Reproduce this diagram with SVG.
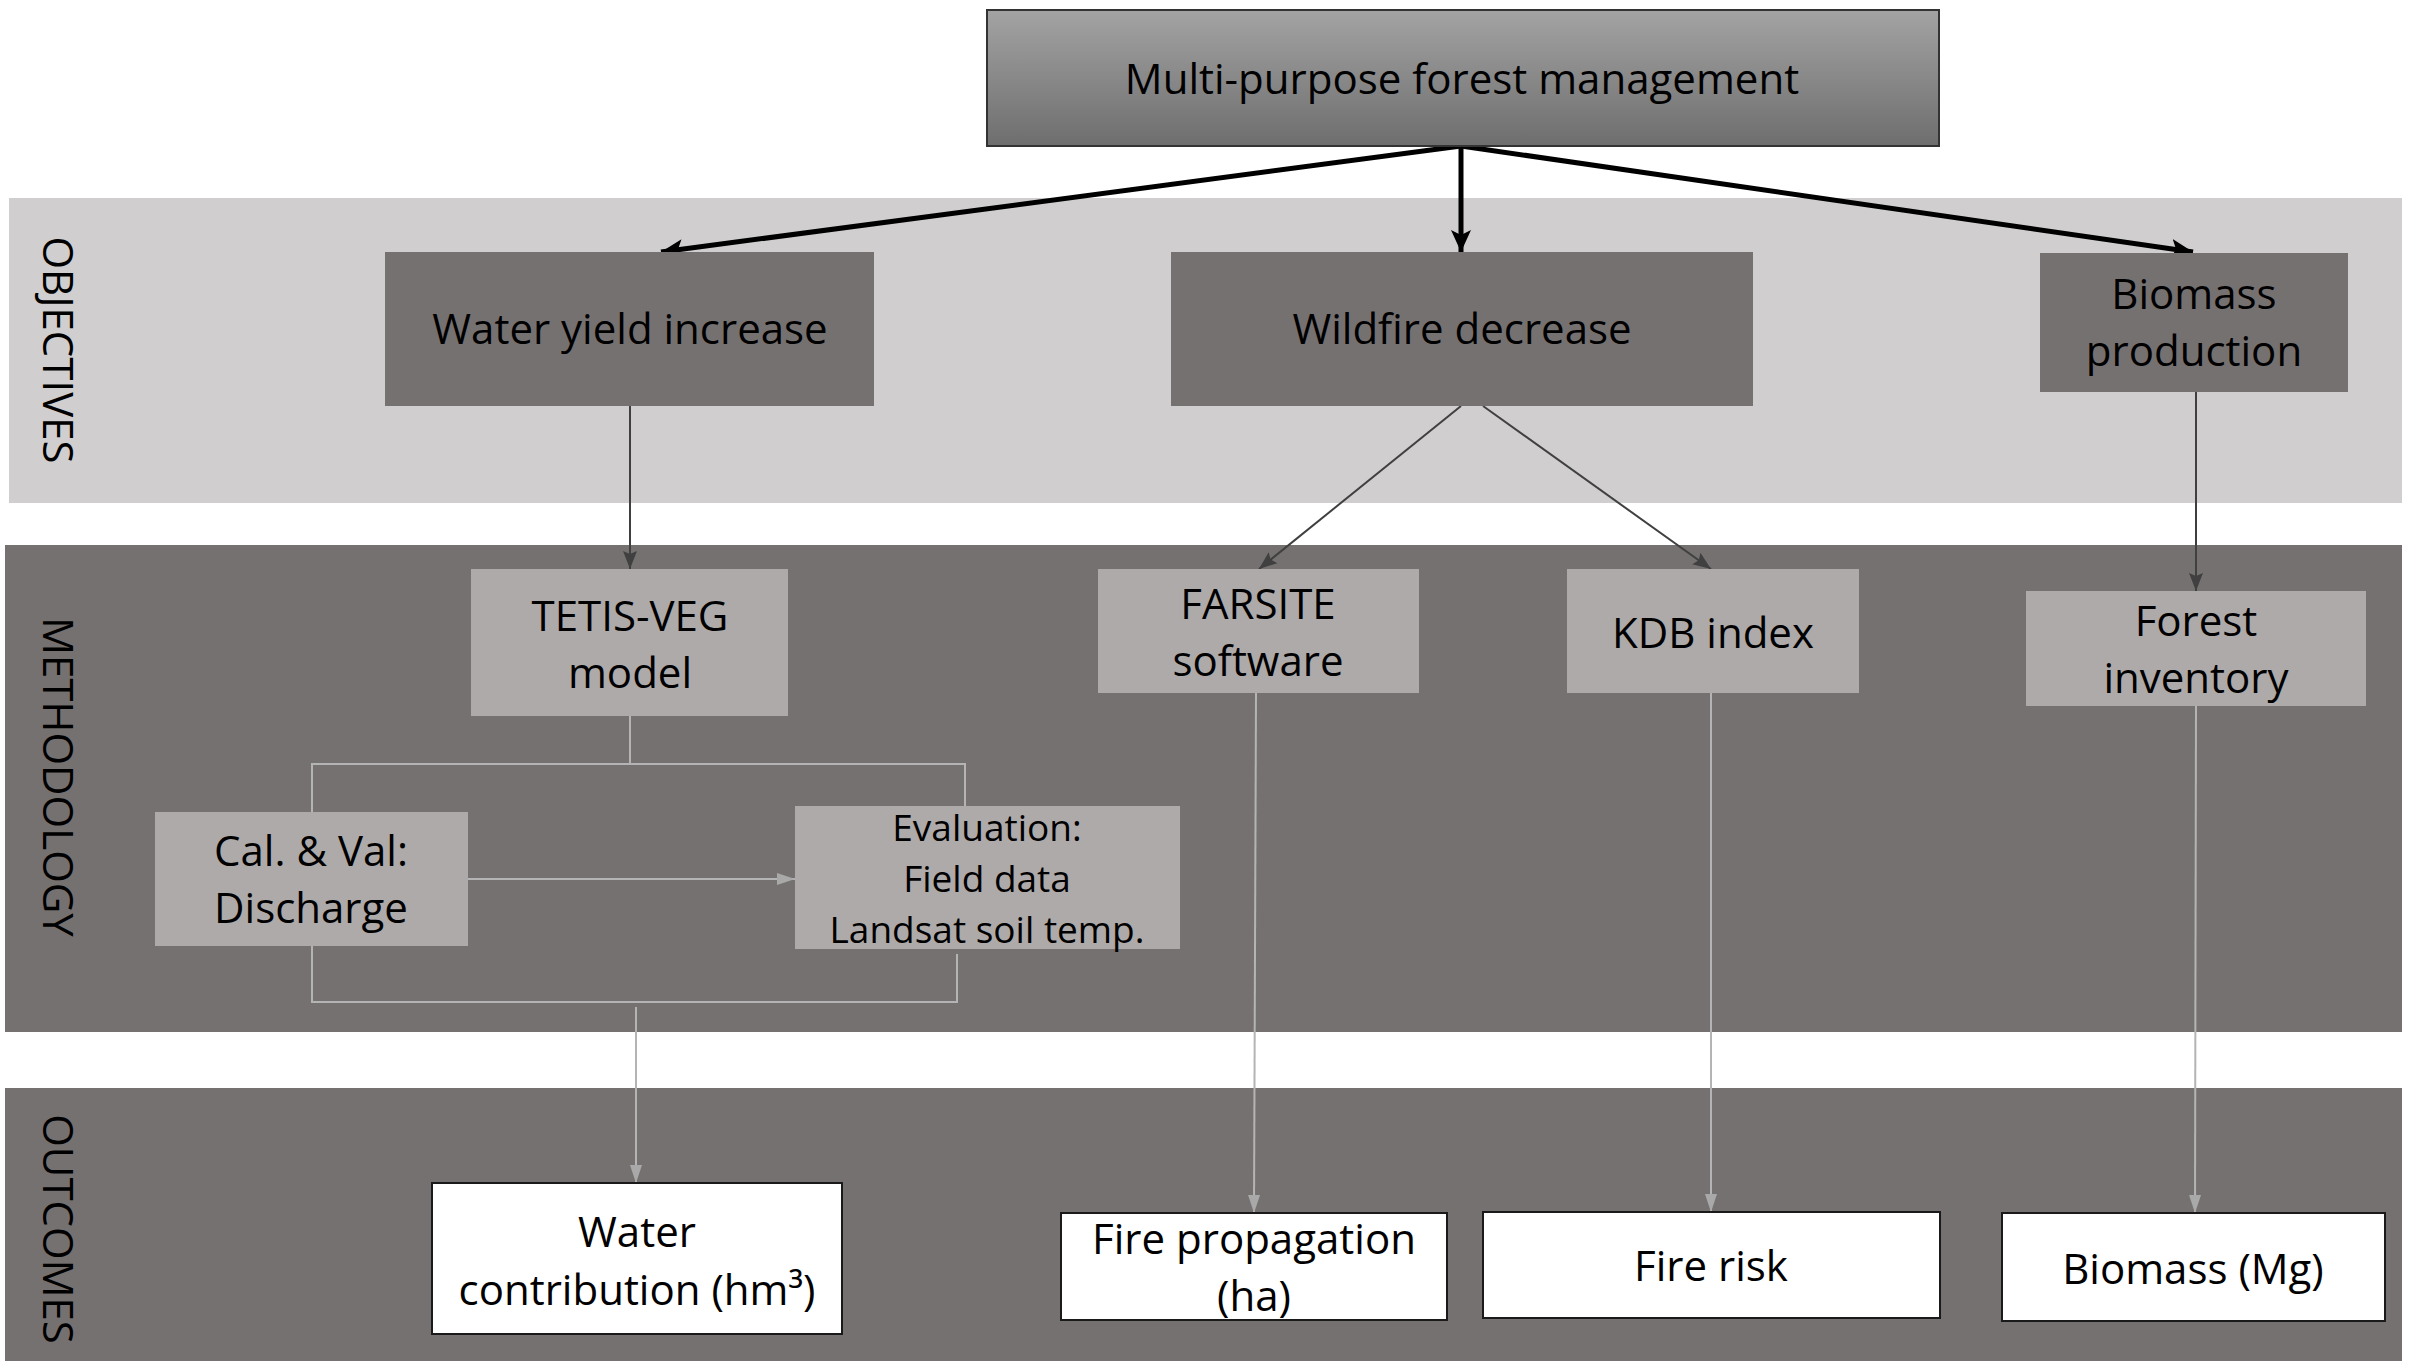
<svg xmlns="http://www.w3.org/2000/svg" width="2422" height="1361" viewBox="0 0 2422 1361">
<defs>
<linearGradient id="topGrad" x1="0" y1="0" x2="0" y2="1">
<stop offset="0" stop-color="#a3a3a3"/>
<stop offset="1" stop-color="#6e6e6e"/>
</linearGradient>
<marker id="ahBlack" markerUnits="userSpaceOnUse" markerWidth="24" markerHeight="24" viewBox="0 0 24 24" refX="22" refY="12" orient="auto">
<path d="M0,2 L22,12 L0,22 L5,12 Z" fill="#000"/>
</marker>
<marker id="ahDark" markerUnits="userSpaceOnUse" markerWidth="18" markerHeight="16" viewBox="0 0 18 16" refX="18" refY="8" orient="auto">
<path d="M0,1 L18,8 L0,15 L3,8 Z" fill="#404040"/>
</marker>
<marker id="ahLight" markerUnits="userSpaceOnUse" markerWidth="18" markerHeight="14" viewBox="0 0 18 14" refX="18" refY="7" orient="auto">
<path d="M0,1 L18,7 L0,13 Z" fill="#a9a9a9"/>
</marker>
</defs>
<style>
text { font-family: "Open Sans", "Liberation Sans", sans-serif; fill: #000; text-anchor: middle; }
.t { font-size: 42px; }
.ts { font-size: 37px; }
.lbl { font-size: 42px; text-anchor: middle; }
.band-light { fill: #d0cecf; }
.band-dark { fill: #767171; }
.obj { fill: #767171; }
.meth { fill: #aeaaaa; }
.out { fill: #ffffff; stroke: #1a1a1a; stroke-width: 2; }
.top { fill: url(#topGrad); stroke: #333; stroke-width: 2; }
.cBlack { stroke: #000; stroke-width: 5; fill: none; }
.cDark { stroke: #404040; stroke-width: 2; fill: none; }
.cLight { stroke: #b4b4b4; stroke-width: 2; fill: none; }
</style>

<!-- bands -->
<g id="bands">
<rect class="band-light" x="9" y="198" width="2393" height="305"/>
<rect class="band-dark" x="5" y="545" width="2397" height="487"/>
<rect class="band-dark" x="5" y="1088" width="2397" height="273"/>
<text class="lbl" transform="translate(43,350) rotate(90)">OBJECTIVES</text>
<text class="lbl" transform="translate(43,777) rotate(90)">METHODOLOGY</text>
<text class="lbl" transform="translate(43,1229) rotate(90)">OUTCOMES</text>
</g>

<!-- connectors -->
<g id="connectors">
<line class="cBlack" x1="1461" y1="146" x2="661" y2="252" marker-end="url(#ahBlack)"/>
<line class="cBlack" x1="1461" y1="146" x2="1461" y2="252" marker-end="url(#ahBlack)"/>
<line class="cBlack" x1="1461" y1="146" x2="2193" y2="252" marker-end="url(#ahBlack)"/>
<line class="cDark" x1="630" y1="406" x2="630" y2="569" marker-end="url(#ahDark)"/>
<line class="cDark" x1="1461" y1="406" x2="1259" y2="569" marker-end="url(#ahDark)"/>
<line class="cDark" x1="1483" y1="406" x2="1711" y2="569" marker-end="url(#ahDark)"/>
<line class="cDark" x1="2196" y1="392" x2="2196" y2="591" marker-end="url(#ahDark)"/>
<polyline class="cLight" points="630,716 630,764"/>
<polyline class="cLight" points="312,812 312,764 965,764 965,806"/>
<line class="cLight" x1="468" y1="879" x2="795" y2="879" marker-end="url(#ahLight)"/>
<polyline class="cLight" points="312,946 312,1002 957,1002 957,954"/>
<line class="cLight" x1="636" y1="1007" x2="636" y2="1183" marker-end="url(#ahLight)"/>
<line class="cLight" x1="1256" y1="693" x2="1254" y2="1213" marker-end="url(#ahLight)"/>
<line class="cLight" x1="1711" y1="693" x2="1711" y2="1212" marker-end="url(#ahLight)"/>
<line class="cLight" x1="2196" y1="706" x2="2195" y2="1213" marker-end="url(#ahLight)"/>
</g>

<!-- nodes -->
<g id="node-top">
<rect class="top" x="987" y="10" width="952" height="136"/>
<text class="t" x="1462" y="94">Multi-purpose forest management</text>
</g>
<g id="node-water-yield">
<rect class="obj" x="385" y="252" width="489" height="154"/>
<text class="t" x="630" y="344">Water yield increase</text>
</g>
<g id="node-wildfire">
<rect class="obj" x="1171" y="252" width="582" height="154"/>
<text class="t" x="1462" y="344">Wildfire decrease</text>
</g>
<g id="node-biomass-prod">
<rect class="obj" x="2040" y="253" width="308" height="139"/>
<text class="t" x="2194" y="309">Biomass</text>
<text class="t" x="2194" y="366">production</text>
</g>
<g id="node-tetis">
<rect class="meth" x="471" y="569" width="317" height="147"/>
<text class="t" x="630" y="631">TETIS-VEG</text>
<text class="t" x="630" y="688">model</text>
</g>
<g id="node-farsite">
<rect class="meth" x="1098" y="569" width="321" height="124"/>
<text class="t" x="1258" y="619">FARSITE</text>
<text class="t" x="1258" y="676">software</text>
</g>
<g id="node-kdb">
<rect class="meth" x="1567" y="569" width="292" height="124"/>
<text class="t" x="1713" y="648">KDB index</text>
</g>
<g id="node-forest-inv">
<rect class="meth" x="2026" y="591" width="340" height="115"/>
<text class="t" x="2196" y="636">Forest</text>
<text class="t" x="2196" y="693">inventory</text>
</g>
<g id="node-calval">
<rect class="meth" x="155" y="812" width="313" height="134"/>
<text class="t" x="311" y="866">Cal. &amp; Val:</text>
<text class="t" x="311" y="923">Discharge</text>
</g>
<g id="node-evaluation">
<rect class="meth" x="795" y="806" width="385" height="143"/>
<text class="ts" x="987" y="841">Evaluation:</text>
<text class="ts" x="987" y="892">Field data</text>
<text class="ts" x="987" y="943">Landsat soil temp.</text>
</g>
<g id="node-water-contrib">
<rect class="out" x="432" y="1183" width="410" height="151"/>
<text class="t" x="637" y="1247">Water</text>
<text class="t" x="637" y="1305">contribution (hm³)</text>
</g>
<g id="node-fire-prop">
<rect class="out" x="1061" y="1213" width="386" height="107"/>
<text class="t" x="1254" y="1254">Fire propagation</text>
<text class="t" x="1254" y="1311">(ha)</text>
</g>
<g id="node-fire-risk">
<rect class="out" x="1483" y="1212" width="457" height="106"/>
<text class="t" x="1711" y="1281">Fire risk</text>
</g>
<g id="node-biomass-mg">
<rect class="out" x="2002" y="1213" width="383" height="108"/>
<text class="t" x="2193" y="1284">Biomass (Mg)</text>
</g>
</svg>
